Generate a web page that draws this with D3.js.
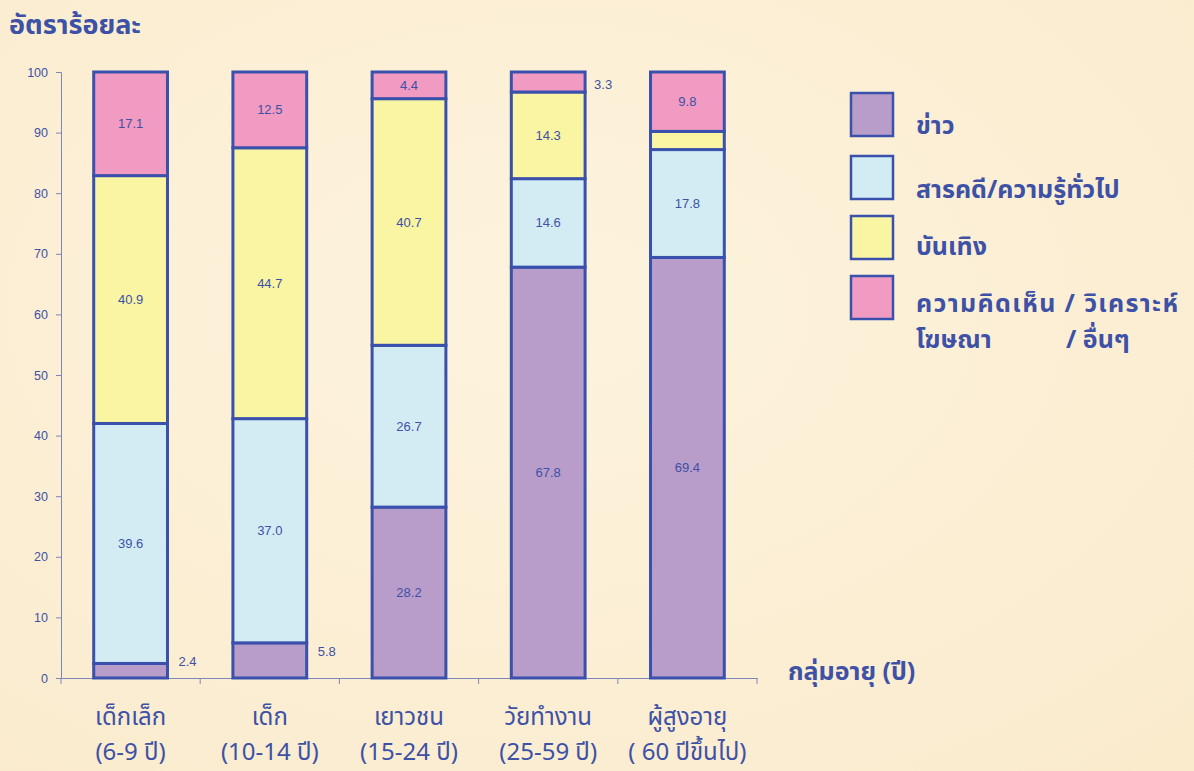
<!DOCTYPE html>
<html><head><meta charset="utf-8">
<script src="https://cdn.jsdelivr.net/npm/d3@7/dist/d3.min.js"></script>
<style>
html,body{margin:0;padding:0;background:#fbeed3;}
svg{display:block;}
</style></head>
<body><svg id="c" width="1194" height="771"></svg>
<script>
const categories = ["เด็กเล็ก","เด็ก","เยาวชน","วัยทำงาน","ผู้สูงอายุ"];
const categoryRanges = ["(6-9 ปี)","(10-14 ปี)","(15-24 ปี)","(25-59 ปี)","( 60 ปีขึ้นไป)"];
const seriesNames = ["ข่าว","สารคดี/ความรู้ทั่วไป","บันเทิง","ความคิดเห็น / วิเคราะห์"];
const news = [2.4, 5.8, 28.2, 67.8, 69.4];
const documentary = [39.6, 37.0, 26.7, 14.6, 17.8];
const entertainment = [40.9, 44.7, 40.7, 14.3, 3.0];
const opinion = [17.1, 12.5, 4.4, 3.3, 9.8];
const yTicks = [0,10,20,30,40,50,60,70,80,90,100];
const colors = ["#b89cc9","#d3ecf4","#f9f5a2","#f19ac2"];

const svg = d3.select("#c");
const ink = "#3d51a6";
const stroke = "#3a50ad";
const thai = "'Noto Sans Thai','Noto Sans Thai UI','Loma','Garuda','Noto Sans',sans-serif";

// background
const defs = svg.append("defs");
const g1 = defs.append("radialGradient").attr("id","bg").attr("cx","45%").attr("cy","40%").attr("r","80%");
g1.append("stop").attr("offset","0%").attr("stop-color","#fdf3dd");
g1.append("stop").attr("offset","100%").attr("stop-color","#faebcd");
svg.append("rect").attr("width",1194).attr("height",771).attr("fill","url(#bg)");

const x = d3.scaleBand().domain(categories).range([61,757]).padding(0);
const y = d3.scaleLinear().domain([0,100]).range([678,72]);
const barW = x.bandwidth()*0.53;

const seriesArr = [news, documentary, entertainment, opinion];
const rows = categories.map((c,i)=>{
  const o = {cat:c};
  seriesArr.forEach((s,k)=>o["s"+k]=s[i]);
  return o;
});
const stack = d3.stack().keys(["s0","s1","s2","s3"])(rows);

// axes
const yAxis = d3.axisLeft(y).tickValues(yTicks).tickSize(5).tickPadding(8);
const ya = svg.append("g").attr("transform","translate(61,0)").call(yAxis);
ya.select(".domain").attr("stroke","#7d86b8");
ya.selectAll(".tick line").attr("stroke","#7d86b8");
ya.selectAll(".tick text").attr("fill",ink).attr("font-family","Arial, 'Liberation Sans', sans-serif").attr("font-size",12.5);

const xAxis = d3.axisBottom(x).tickSize(0).tickFormat("");
const xa = svg.append("g").attr("transform","translate(0,678)").call(xAxis);
xa.select(".domain").attr("stroke","#7d86b8");
const bounds = [61].concat(categories.map(c=>x(c)+x.bandwidth()));
svg.append("g").selectAll("line").data(bounds).join("line")
  .attr("x1",d=>d).attr("x2",d=>d).attr("y1",678).attr("y2",684)
  .attr("stroke","#7d86b8");

// bars
stack.forEach((layer,k)=>{
  svg.append("g").selectAll("rect").data(layer).join("rect")
    .attr("x",d=>x(d.data.cat)+x.bandwidth()/2-barW/2)
    .attr("y",d=>y(d[1]))
    .attr("width",barW)
    .attr("height",d=>y(d[0])-y(d[1]))
    .attr("fill",colors[k])
    .attr("stroke",stroke)
    .attr("stroke-width",3);
});

// value labels
const lab = svg.append("g").attr("font-family","Arial, 'Liberation Sans', sans-serif").attr("font-size",13).attr("fill",ink);
stack.forEach((layer,k)=>{
  layer.forEach((d,i)=>{
    const v = d[1]-d[0];
    const cx = x(d.data.cat)+x.bandwidth()/2;
    const cy = y((d[0]+d[1])/2);
    if (k===2 && i===4) return; // not labelled in the original
    if (k===0 && v<7) {
      lab.append("text").attr("x",cx+barW/2+11).attr("y",cy-9).attr("dy","0.35em").text(v.toFixed(1));
    } else if (v < 4) {
      lab.append("text").attr("x",cx+barW/2+9).attr("y",cy+2).attr("dy","0.35em").text(v.toFixed(1));
    } else {
      lab.append("text").attr("x",cx).attr("y",cy).attr("dy","0.35em").attr("text-anchor","middle").text(v.toFixed(1));
    }
  });
});

// title
svg.append("text").attr("x",9).attr("y",34).attr("fill",ink).attr("font-family",thai)
  .attr("font-size",27).attr("font-weight","bold").text("อัตราร้อยละ");

// x category labels
const xl = svg.append("g").attr("font-family",thai).attr("fill",ink).attr("text-anchor","middle").attr("font-size",24);
categories.forEach((c,i)=>{
  const cx = x(c)+x.bandwidth()/2;
  xl.append("text").attr("x",cx).attr("y",725).text(c);
  xl.append("text").attr("x",cx).attr("y",760).text(categoryRanges[i]);
});
svg.append("text").attr("x",788).attr("y",680).attr("fill",ink).attr("font-family",thai)
  .attr("font-size",25).attr("font-weight","bold").text("กลุ่มอายุ (ปี)");

// legend
const lg = svg.append("g");
const legY = [93,156,216,276];
seriesNames.forEach((n,k)=>{
  lg.append("rect").attr("x",851).attr("y",legY[k]).attr("width",42).attr("height",43)
    .attr("fill",colors[k]).attr("stroke",stroke).attr("stroke-width",2.5);
});
const lt = lg.append("g").attr("font-family",thai).attr("fill",ink).attr("font-size",25).attr("font-weight","bold");
lt.append("text").attr("x",916).attr("y",134).text(seriesNames[0]);
lt.append("text").attr("x",916).attr("y",198).text(seriesNames[1]);
lt.append("text").attr("x",916).attr("y",255).text(seriesNames[2]);
lt.append("text").attr("x",916).attr("y",312).attr("textLength",262).text(seriesNames[3]);
lt.append("text").attr("x",916).attr("y",348).text("โฆษณา");
lt.append("text").attr("x",1066).attr("y",348).text("/ อื่นๆ");
</script></body></html>
